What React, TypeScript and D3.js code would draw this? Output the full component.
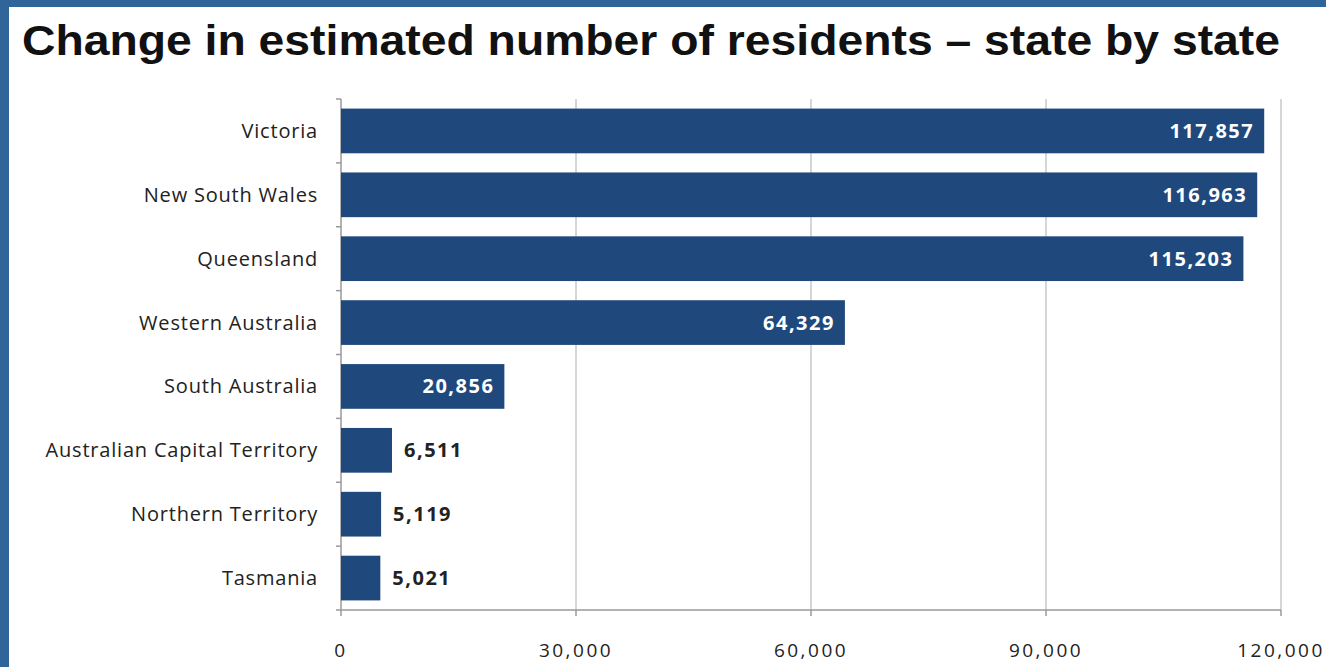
import React from "react";
import * as d3 from "d3";

const categories = [
  "Victoria",
  "New South Wales",
  "Queensland",
  "Western Australia",
  "South Australia",
  "Australian Capital Territory",
  "Northern Territory",
  "Tasmania",
];
const values = [117857, 116963, 115203, 64329, 20856, 6511, 5119, 5021];
const xTicks = [0, 30000, 60000, 90000, 120000];
const title = "Change in estimated number of residents – state by state";

const W = 1326;
const H = 667;
const left = 341;
const right = 1281;
const top = 99;
const bottom = 610;

export default function App() {
  const x = d3.scaleLinear().domain([0, 120000]).range([left, right]);
  const y = d3.scaleBand<string>().domain(categories).range([top, bottom]).paddingInner(0.3).paddingOuter(0.15);
  const fmt = d3.format(",");
  const step = y.step();
  const font = "'Open Sans', 'DejaVu Sans', sans-serif";
  return (
    <svg width={W} height={H} style={{ position: "absolute", left: 0, top: 0 }}>
      <rect x={0} y={0} width={W} height={H} fill="#ffffff" />
      <rect x={0} y={0} width={W} height={7} fill="#2F6599" />
      <rect x={0} y={0} width={9} height={H} fill="#2F6599" />
      <text
        x={22}
        y={55}
        fontFamily="'Liberation Sans', Arial, sans-serif"
        fontWeight="bold"
        fontSize={42}
        fill="#111"
        textLength={1258}
        lengthAdjust="spacingAndGlyphs"
      >
        {title}
      </text>
      {xTicks.slice(1).map((t) => (
        <line key={t} x1={x(t)} x2={x(t)} y1={top} y2={bottom} stroke="#c8c8c8" strokeWidth={1.5} />
      ))}
      <line x1={left} x2={left} y1={top} y2={bottom} stroke="#9a9a9a" strokeWidth={1.5} />
      <line x1={left} x2={right} y1={bottom} y2={bottom} stroke="#9a9a9a" strokeWidth={1.5} />
      {d3.range(categories.length + 1).map((i) => (
        <line key={"yt" + i} x1={left - 5} x2={left} y1={top + i * step} y2={top + i * step} stroke="#9a9a9a" strokeWidth={1.5} />
      ))}
      {xTicks.map((t) => (
        <line key={"xt" + t} x1={x(t)} x2={x(t)} y1={bottom} y2={bottom + 6} stroke="#9a9a9a" strokeWidth={1.5} />
      ))}
      {xTicks.map((t) => (
        <text key={"xl" + t} x={x(t)} y={657} textAnchor="middle" fontFamily={font} fontSize={19} letterSpacing={2.5} fill="#222">
          {fmt(t)}
        </text>
      ))}
      {categories.map((c, i) => {
        const v = values[i];
        const y0 = y(c)!;
        const bw = y.bandwidth();
        const inside = x(v) - left > 120;
        return (
          <g key={c}>
            <rect x={left} y={y0} width={x(v) - left} height={bw} fill="#1F497D" />
            <text x={318} y={y0 + bw / 2} dy="0.35em" textAnchor="end" fontFamily={font} fontSize={20} letterSpacing={0.8} fill="#222">
              {c}
            </text>
            <text
              x={inside ? x(v) - 10 : x(v) + 12}
              y={y0 + bw / 2}
              dy="0.35em"
              textAnchor={inside ? "end" : "start"}
              fontFamily={font}
              fontWeight="bold"
              fontSize={20}
              letterSpacing={1.5}
              fill={inside ? "#ffffff" : "#222"}
            >
              {fmt(v)}
            </text>
          </g>
        );
      })}
    </svg>
  );
}
